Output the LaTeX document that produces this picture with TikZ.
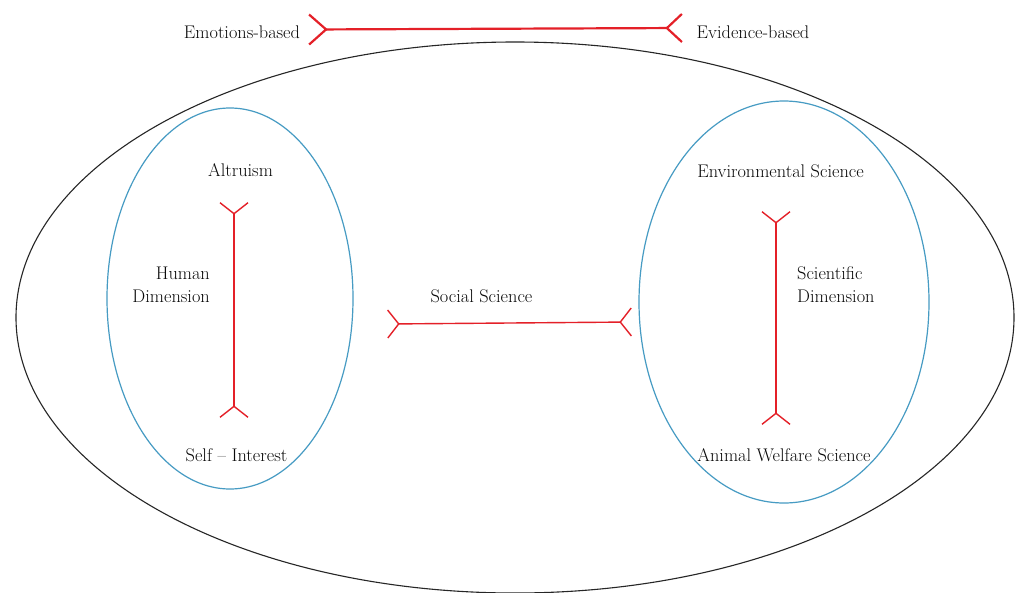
\documentclass[tikz,border=0pt]{standalone}
\usetikzlibrary{shapes.geometric,arrows.meta}
\definecolor{ringblue}{RGB}{70,155,195}
\definecolor{barred}{RGB}{228,32,40}
\definecolor{txt}{RGB}{10,10,10}
\begin{document}
\begin{tikzpicture}[x=1pt,y=-1pt,
  ring/.style={ellipse, inner sep=0pt, outer sep=0pt},
  lbl/.style={text=txt, font=\fontsize{18.3}{23}\selectfont, inner sep=0pt},
  barbline/.style={draw=barred, line width=1.4pt, {Straight Barb[reversed,length=11pt,width=28pt]}-{Straight Barb[reversed,length=11pt,width=28pt]}},
  topline/.style={draw=barred, line width=2.2pt, {Straight Barb[reversed,length=17pt,width=30pt]}-{Straight Barb[reversed,length=15pt,width=28pt]}},
]
\fill[white] (0,0) rectangle (1017,592);
\useasboundingbox (0,0) rectangle (1017,592);

% enclosing ellipses
\node[ring, draw=black!85, line width=1.1pt, minimum width=998pt, minimum height=551pt] (outer) at (515,317.5) {};
\node[ring, draw=ringblue, line width=1.2pt, minimum width=246pt, minimum height=381pt] (human) at (230,298.5) {};
\node[ring, draw=ringblue, line width=1.2pt, minimum width=290pt, minimum height=402pt] (sci) at (784,302) {};

% labels
\node[lbl] (emo) at (242,32) {Emotions-based};
\node[lbl] (evi) at (753,32) {Evidence-based};
\node[lbl] (alt) at (240.5,170) {Altruism};
\node[lbl, align=right, anchor=east] (hd) at (210,284.5) {Human\\Dimension};
\node[lbl] (self) at (236.5,455) {Self -- Interest};
\node[lbl] (soc) at (481.5,296) {Social Science};
\node[lbl] (env) at (780.5,171) {Environmental Science};
\node[lbl, align=left, anchor=west] (sd) at (797,284.5) {Scientific\\Dimension};
\node[lbl] (aws) at (784,455) {Animal Welfare Science};

% connector ends
\coordinate (emoEnd) at (308,29.5);
\coordinate (eviEnd) at (683,28);
\coordinate (socL) at (387,324);
\coordinate (socR) at (632,322);
\coordinate (altEnd) at (234,202);
\coordinate (selfEnd) at (234,418);
\coordinate (envEnd) at (776,211);
\coordinate (awsEnd) at (776,425);

% connectors
\draw[topline] (emoEnd) -- (eviEnd);
\draw[barbline] (socL) -- (socR);
\draw[barbline] (altEnd) -- (selfEnd);
\draw[barbline] (envEnd) -- (awsEnd);
\end{tikzpicture}
\end{document}
